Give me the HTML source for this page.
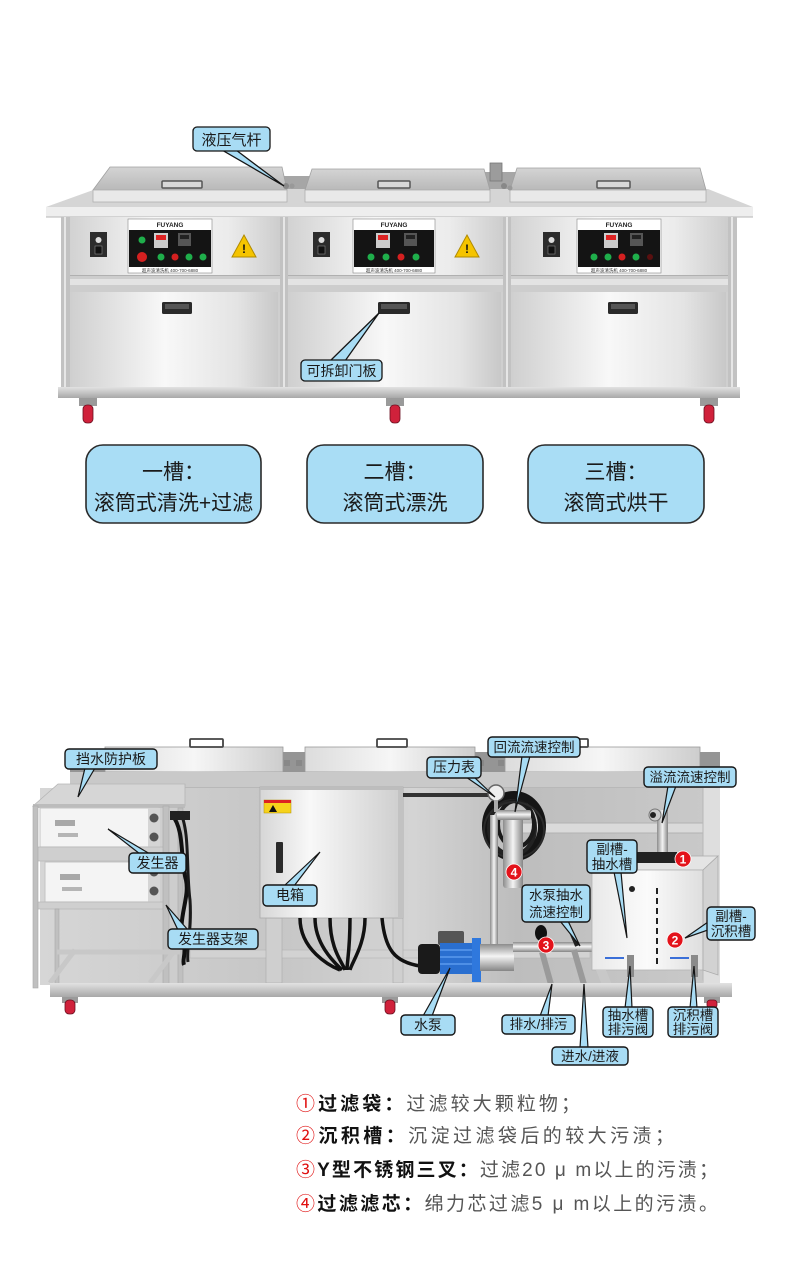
<!DOCTYPE html>
<html><head><meta charset="utf-8"><style>
html,body{margin:0;padding:0;background:#fff;}
svg{display:block;}
text{font-family:"Liberation Sans","Noto Sans CJK SC",sans-serif;}
</style></head><body>
<svg width="790" height="1268" viewBox="0 0 790 1268" xmlns="http://www.w3.org/2000/svg">
<defs>
<linearGradient id="up" x1="0" x2="1" y1="0" y2="0"><stop offset="0" stop-color="#d2d2d2"/><stop offset="0.4" stop-color="#f6f6f6"/><stop offset="0.75" stop-color="#ececec"/><stop offset="1" stop-color="#cdcdcd"/></linearGradient>
<linearGradient id="door" x1="0" x2="1" y1="0" y2="0"><stop offset="0" stop-color="#d0d0d0"/><stop offset="0.45" stop-color="#f8f8f8"/><stop offset="0.8" stop-color="#e4e4e4"/><stop offset="1" stop-color="#c8c8c8"/></linearGradient>
<linearGradient id="lidTop" x1="0" y1="0" x2="0" y2="1"><stop offset="0" stop-color="#d4d4d4"/><stop offset="1" stop-color="#b9b9b9"/></linearGradient>
<linearGradient id="lidB" x1="0" y1="0" x2="1" y2="0"><stop offset="0" stop-color="#dcdcdc"/><stop offset="0.5" stop-color="#f6f6f6"/><stop offset="1" stop-color="#cdcdcd"/></linearGradient>
<linearGradient id="pipe" x1="0" x2="1" y1="0" y2="0"><stop offset="0" stop-color="#8c8c8c"/><stop offset="0.5" stop-color="#f4f4f4"/><stop offset="1" stop-color="#858585"/></linearGradient>
<linearGradient id="pipeH" x1="0" y1="0" x2="0" y2="1"><stop offset="0" stop-color="#8c8c8c"/><stop offset="0.45" stop-color="#f4f4f4"/><stop offset="1" stop-color="#858585"/></linearGradient>
<linearGradient id="wall" x1="0" x2="1" y1="0" y2="0"><stop offset="0" stop-color="#d6d6d6"/><stop offset="0.35" stop-color="#c6c6c6"/><stop offset="0.55" stop-color="#d4d4d4"/><stop offset="0.7" stop-color="#bdbdbd"/><stop offset="1" stop-color="#cacaca"/></linearGradient>
<linearGradient id="ebox" x1="0" x2="1" y1="0" y2="0"><stop offset="0" stop-color="#d6d6d6"/><stop offset="0.35" stop-color="#f8f8f8"/><stop offset="1" stop-color="#cdcdcd"/></linearGradient>
<linearGradient id="rail" x1="0" y1="0" x2="0" y2="1"><stop offset="0" stop-color="#e2e2e2"/><stop offset="1" stop-color="#a8a8a8"/></linearGradient>
<linearGradient id="sub" x1="0" x2="1" y1="0" y2="0"><stop offset="0" stop-color="#e9e9e9"/><stop offset="0.5" stop-color="#fbfbfb"/><stop offset="1" stop-color="#dedede"/></linearGradient>
</defs>

<!-- ================= TOP MACHINE ================= -->
<rect x="270" y="176" width="50" height="18" fill="#a6a6a6"/>
<rect x="478" y="172" width="44" height="22" fill="#a6a6a6"/>
<rect x="490" y="163" width="12" height="18" fill="#9c9c9c" stroke="#777" stroke-width="0.8"/>
<polygon points="46,207 96,189 708,189 753,207" fill="#d5d5d5"/>
<rect x="46" y="207" width="707" height="10" fill="#eeeeee"/>
<line x1="46" y1="217" x2="753" y2="217" stroke="#b5b5b5"/>
<!-- lids -->
<polygon points="110,167 282,167 287,190 93,190" fill="url(#lidTop)" stroke="#a0a0a0" stroke-width="0.8"/>
<rect x="93" y="190" width="194" height="12" fill="#e9e9e9" stroke="#b0b0b0" stroke-width="0.8"/>
<rect x="162" y="181" width="40" height="7" rx="1" fill="#d8d8d8" stroke="#555" stroke-width="1.5"/>
<polygon points="312,169 484,169 490,190 305,190" fill="url(#lidTop)" stroke="#a0a0a0" stroke-width="0.8"/>
<rect x="305" y="190" width="185" height="12" fill="#e9e9e9" stroke="#b0b0b0" stroke-width="0.8"/>
<rect x="378" y="181" width="32" height="7" rx="1" fill="#d8d8d8" stroke="#555" stroke-width="1.5"/>
<polygon points="517,168 700,168 706,190 510,190" fill="url(#lidTop)" stroke="#a0a0a0" stroke-width="0.8"/>
<rect x="510" y="190" width="196" height="12" fill="#e9e9e9" stroke="#b0b0b0" stroke-width="0.8"/>
<rect x="597" y="181" width="33" height="7" rx="1" fill="#d8d8d8" stroke="#555" stroke-width="1.5"/>
<circle cx="286" cy="186" r="3" fill="#888"/><circle cx="292" cy="186" r="2.5" fill="#999"/>
<circle cx="504" cy="186" r="3" fill="#888"/><circle cx="510" cy="188" r="2.5" fill="#999"/>

<!-- body -->
<rect x="61" y="217" width="676" height="170" fill="#cfcfcf"/>
<rect x="70" y="217" width="210" height="58" fill="url(#up)"/>
<rect x="288" y="217" width="215" height="58" fill="url(#up)"/>
<rect x="511" y="217" width="217" height="58" fill="url(#up)"/>
<rect x="61" y="275" width="676" height="17" fill="#cdcdcd"/>
<rect x="61" y="279" width="676" height="6" fill="#e3e3e3"/>
<line x1="61" y1="275.5" x2="737" y2="275.5" stroke="#b0b0b0"/>
<rect x="72" y="292" width="206" height="95" fill="url(#door)"/>
<rect x="290" y="292" width="211" height="95" fill="url(#door)"/>
<rect x="513" y="292" width="213" height="95" fill="url(#door)"/>
<g fill="#c2c2c2">
<rect x="61" y="217" width="9" height="170"/><rect x="280" y="217" width="8" height="170"/>
<rect x="503" y="217" width="8" height="170"/><rect x="728" y="217" width="9" height="170"/>
</g>
<g fill="#e6e6e6"><rect x="283" y="217" width="2" height="170"/><rect x="506" y="217" width="2" height="170"/><rect x="64" y="217" width="2" height="170"/><rect x="731" y="217" width="2" height="170"/></g>
<rect x="58" y="387" width="682" height="11" fill="url(#rail)"/>
<!-- door handles -->
<rect x="162" y="302" width="30" height="12" rx="1.5" fill="#2a2a2a"/><rect x="165" y="304" width="24" height="5" fill="#555"/>
<rect x="378" y="302" width="32" height="12" rx="1.5" fill="#2a2a2a"/><rect x="381" y="304" width="26" height="5" fill="#555"/>
<rect x="608" y="302" width="30" height="12" rx="1.5" fill="#2a2a2a"/><rect x="611" y="304" width="24" height="5" fill="#555"/>
<!-- switches -->
<g><rect x="90" y="232" width="17" height="25" fill="#2c2c2c"/><circle cx="98.5" cy="240" r="3" fill="#ddd"/><rect x="95" y="246" width="7" height="8" fill="#111" stroke="#888" stroke-width="0.6"/></g>
<g><rect x="313" y="232" width="17" height="25" fill="#2c2c2c"/><circle cx="321.5" cy="240" r="3" fill="#ddd"/><rect x="318" y="246" width="7" height="8" fill="#111" stroke="#888" stroke-width="0.6"/></g>
<g><rect x="543" y="232" width="17" height="25" fill="#2c2c2c"/><circle cx="551.5" cy="240" r="3" fill="#ddd"/><rect x="548" y="246" width="7" height="8" fill="#111" stroke="#888" stroke-width="0.6"/></g>
<!-- warning triangles -->
<g><polygon points="244,235 256,257 232,257" fill="#f5c400" stroke="#b08a00" stroke-width="1"/><text x="244" y="253" font-size="12" font-weight="bold" text-anchor="middle" fill="#111">!</text></g>
<g><polygon points="467,235 479,257 455,257" fill="#f5c400" stroke="#b08a00" stroke-width="1"/><text x="467" y="253" font-size="12" font-weight="bold" text-anchor="middle" fill="#111">!</text></g>
<!-- panels -->
<g>
<rect x="128" y="219" width="84" height="54" fill="#fff" stroke="#888" stroke-width="0.6"/>
<rect x="129" y="230" width="82" height="37" fill="#141414"/>
<text x="170" y="227" font-size="6.5" font-weight="bold" text-anchor="middle" fill="#222">FUYANG</text>
<text x="170" y="272" font-size="4.5" text-anchor="middle" fill="#333">超声波清洗机 400-700-6880</text>
<circle cx="142" cy="240" r="3.5" fill="#1fae4b"/>
<rect x="154" y="233" width="14" height="15" fill="#ccc"/><rect x="156" y="235" width="10" height="5" fill="#d22"/>
<rect x="178" y="233" width="13" height="13" fill="#555"/><rect x="180" y="235" width="9" height="4" fill="#222"/>
<circle cx="142" cy="257" r="5" fill="#d42020"/>
<circle cx="161" cy="257" r="3.5" fill="#1fae4b"/><circle cx="175" cy="257" r="3.5" fill="#d42020"/>
<circle cx="189" cy="257" r="3.5" fill="#1fae4b"/><circle cx="203" cy="257" r="3.5" fill="#1fae4b"/>
</g>
<g>
<rect x="353" y="219" width="82" height="54" fill="#fff" stroke="#888" stroke-width="0.6"/>
<rect x="354" y="230" width="80" height="37" fill="#141414"/>
<text x="394" y="227" font-size="6.5" font-weight="bold" text-anchor="middle" fill="#222">FUYANG</text>
<text x="394" y="272" font-size="4.5" text-anchor="middle" fill="#333">超声波清洗机 400-700-6880</text>
<rect x="376" y="233" width="14" height="15" fill="#ccc"/><rect x="378" y="235" width="10" height="5" fill="#d22"/>
<rect x="404" y="233" width="13" height="13" fill="#555"/><rect x="406" y="235" width="9" height="4" fill="#222"/>
<circle cx="371" cy="257" r="3.5" fill="#1fae4b"/><circle cx="386" cy="257" r="3.5" fill="#1fae4b"/>
<circle cx="401" cy="257" r="3.5" fill="#d42020"/><circle cx="416" cy="257" r="3.5" fill="#1fae4b"/>
</g>
<g>
<rect x="577" y="219" width="84" height="54" fill="#fff" stroke="#888" stroke-width="0.6"/>
<rect x="578" y="230" width="82" height="37" fill="#141414"/>
<text x="619" y="227" font-size="6.5" font-weight="bold" text-anchor="middle" fill="#222">FUYANG</text>
<text x="619" y="272" font-size="4.5" text-anchor="middle" fill="#333">超声波清洗机 400-700-6880</text>
<rect x="604" y="233" width="14" height="15" fill="#ccc"/><rect x="606" y="235" width="10" height="5" fill="#d22"/>
<rect x="630" y="233" width="13" height="13" fill="#555"/><rect x="632" y="235" width="9" height="4" fill="#222"/>
<circle cx="594" cy="257" r="3.5" fill="#1fae4b"/><circle cx="608" cy="257" r="3.5" fill="#1fae4b"/>
<circle cx="622" cy="257" r="3.5" fill="#d42020"/><circle cx="636" cy="257" r="3.5" fill="#1fae4b"/>
<circle cx="650" cy="257" r="3" fill="#5a1010"/>
</g>
<!-- wheels top -->
<g><rect x="79" y="398" width="18" height="8" fill="#9a9a9a"/><rect x="83" y="405" width="10" height="18" rx="4" fill="#d0213b" stroke="#6a1020" stroke-width="0.8"/></g>
<g><rect x="386" y="398" width="18" height="8" fill="#9a9a9a"/><rect x="390" y="405" width="10" height="18" rx="4" fill="#d0213b" stroke="#6a1020" stroke-width="0.8"/></g>
<g><rect x="700" y="398" width="18" height="8" fill="#9a9a9a"/><rect x="704" y="405" width="10" height="18" rx="4" fill="#d0213b" stroke="#6a1020" stroke-width="0.8"/></g>

<!-- top callouts -->
<g fill="#a8dcf4" stroke="#151515" stroke-width="1.3">
<polygon points="222,150 236,150 284,186"/>
<polygon points="330,361 345,361 379,313"/>
<rect x="193" y="127" width="77" height="24" rx="4"/>
<rect x="301" y="360" width="81" height="21" rx="4"/>
</g>
<g font-size="15" fill="#1a1a1a" text-anchor="middle">
<text x="231.5" y="145">液压气杆</text>
<text x="341.5" y="376" font-size="14">可拆卸门板</text>
</g>

<!-- big boxes -->
<g fill="#a9ddf5" stroke="#2a2a2a" stroke-width="1.6">
<rect x="86" y="445" width="175" height="78" rx="17"/>
<rect x="307" y="445" width="176" height="78" rx="17"/>
<rect x="528" y="445" width="176" height="78" rx="17"/>
</g>
<g font-size="21" fill="#1a1a1a" text-anchor="middle">
<text x="173.5" y="479">一槽：</text><text x="173.5" y="510">滚筒式清洗+过滤</text>
<text x="395" y="479">二槽：</text><text x="395" y="510">滚筒式漂洗</text>
<text x="616" y="479">三槽：</text><text x="616" y="510">滚筒式烘干</text>
</g>

<!-- ================= BOTTOM MACHINE ================= -->
<rect x="70" y="752" width="650" height="22" fill="#959595"/>
<!-- lids -->
<rect x="105" y="747" width="178" height="25" fill="url(#lidB)" stroke="#999" stroke-width="0.8"/>
<rect x="190" y="739" width="33" height="8" rx="1" fill="none" stroke="#444" stroke-width="1.8"/>
<rect x="305" y="747" width="170" height="25" fill="url(#lidB)" stroke="#999" stroke-width="0.8"/>
<rect x="377" y="739" width="30" height="8" rx="1" fill="none" stroke="#444" stroke-width="1.8"/>
<rect x="505" y="747" width="195" height="25" fill="url(#lidB)" stroke="#999" stroke-width="0.8"/>
<rect x="556" y="739" width="32" height="8" rx="1" fill="none" stroke="#444" stroke-width="1.8"/>
<g fill="#888"><rect x="284" y="760" width="6" height="6"/><rect x="296" y="760" width="6" height="6"/><rect x="478" y="760" width="6" height="6"/><rect x="498" y="760" width="6" height="6"/></g>
<rect x="70" y="772" width="650" height="16" fill="#c9c9c9"/>
<line x1="70" y1="788" x2="720" y2="788" stroke="#a8a8a8"/>
<!-- back wall -->
<rect x="40" y="788" width="680" height="197" fill="url(#wall)"/>
<rect x="520" y="823" width="185" height="10" fill="#dadada"/>
<line x1="520" y1="823" x2="705" y2="823" stroke="#b2b2b2"/>
<line x1="520" y1="833" x2="705" y2="833" stroke="#b2b2b2"/>
<rect x="703" y="788" width="17" height="197" fill="#dedede"/>
<line x1="703" y1="788" x2="703" y2="985" stroke="#b8b8b8"/>

<!-- generator rack -->
<polygon points="33,806 58,784 185,784 185,806" fill="#d6d6d6" stroke="#b5b5b5" stroke-width="0.8"/>
<rect x="33" y="804" width="152" height="4" fill="#bcbcbc"/>
<rect x="40" y="808" width="118" height="39" fill="#f4f4f4" stroke="#c4c4c4"/>
<rect x="148" y="808" width="12" height="39" fill="#d5d5d5"/>
<circle cx="154" cy="818" r="4.5" fill="#555"/><circle cx="154" cy="837" r="4.5" fill="#555"/>
<rect x="55" y="820" width="20" height="6" fill="#a8a8a8"/><rect x="58" y="833" width="20" height="4" fill="#b5b5b5"/>
<rect x="36" y="847" width="132" height="14" fill="#cfcfcf" stroke="#b0b0b0" stroke-width="0.6"/>
<rect x="45" y="862" width="113" height="40" fill="#f4f4f4" stroke="#c4c4c4"/>
<rect x="148" y="862" width="12" height="40" fill="#d5d5d5"/>
<circle cx="154" cy="872" r="4.5" fill="#555"/><circle cx="154" cy="891" r="4.5" fill="#555"/>
<rect x="60" y="874" width="20" height="6" fill="#a8a8a8"/><rect x="62" y="887" width="20" height="4" fill="#b5b5b5"/>
<rect x="36" y="902" width="132" height="7" fill="#cfcfcf" stroke="#b0b0b0" stroke-width="0.6"/>
<g fill="#c0c0c0" stroke="#a8a8a8" stroke-width="0.6">
<rect x="33" y="806" width="5" height="182"/><rect x="163" y="806" width="6" height="182"/>
<rect x="55" y="909" width="4" height="76"/><rect x="178" y="808" width="5" height="177"/>
</g>
<g stroke="#c8c8c8" stroke-width="5" fill="none"><line x1="75" y1="950" x2="50" y2="983"/><line x1="175" y1="950" x2="150" y2="983"/><line x1="57" y1="952" x2="180" y2="952"/></g>
<path d="M172,815 C185,830 180,860 186,880 C190,900 176,920 184,945 C186,955 182,960 184,965" stroke="#111" stroke-width="4" fill="none"/>
<path d="M180,812 C190,830 186,870 190,900 C192,930 186,950 188,962" stroke="#1a1a1a" stroke-width="3" fill="none"/>
<rect x="170" y="811" width="20" height="9" fill="#222"/>

<!-- lower bar behind -->
<rect x="190" y="950" width="400" height="8" fill="#d2d2d2" stroke="#b5b5b5" stroke-width="0.6"/>

<!-- electric box -->
<rect x="266" y="918" width="16" height="65" fill="#cfcfcf" stroke="#aaa" stroke-width="0.6"/>
<rect x="393" y="918" width="10" height="65" fill="#cfcfcf" stroke="#aaa" stroke-width="0.6"/>
<rect x="260" y="787" width="143" height="131" fill="url(#ebox)" stroke="#aaa" stroke-width="0.8"/>
<rect x="260" y="787" width="143" height="3" fill="#bdbdbd"/>
<rect x="398" y="790" width="5" height="128" fill="#c2c2c2"/>
<rect x="264" y="800" width="27" height="13" fill="#f6d21c" stroke="#b29000" stroke-width="0.5"/>
<rect x="264" y="800" width="27" height="3" fill="#d22"/>
<polygon points="269,812 273,805 277,812" fill="#111"/>
<rect x="276" y="842" width="7" height="31" rx="1" fill="#2a2a2a"/>
<path d="M300,918 C300,950 330,966 340,970 M315,918 C315,945 335,963 342,970 M330,918 C330,950 343,963 345,970 M350,918 C350,950 347,962 347,970 M365,918 C365,945 352,962 350,970 M382,918 C385,950 395,962 420,966" stroke="#111" stroke-width="3.5" fill="none"/>
<path d="M403,795 L492,795" stroke="#333" stroke-width="4"/>

<!-- hose / filter / gauge -->
<g fill="none">
<ellipse cx="514" cy="826" rx="28" ry="31" stroke="#151515" stroke-width="8"/>
<ellipse cx="512" cy="828" rx="23" ry="27" stroke="#222" stroke-width="4"/>
<ellipse cx="516" cy="824" rx="18" ry="23" stroke="#1a1a1a" stroke-width="4"/>
<ellipse cx="514" cy="830" rx="30" ry="28" stroke="#2a2a2a" stroke-width="2"/>
</g>
<rect x="490" y="815" width="8" height="130" fill="url(#pipe)"/>
<rect x="503" y="817" width="20" height="71" rx="3" fill="url(#pipe)"/>
<rect x="497" y="810" width="34" height="10" rx="2" fill="url(#pipeH)"/>
<circle cx="496" cy="793" r="8" fill="#eeeeee" stroke="#666" stroke-width="1.5"/>
<rect x="494" y="800" width="4" height="12" fill="#aaa"/>

<!-- pump -->
<rect x="418" y="944" width="22" height="30" rx="4" fill="#1a1a1a"/>
<rect x="438" y="931" width="26" height="14" rx="2" fill="#555"/>
<rect x="440" y="943" width="32" height="31" fill="#2a6fd0"/>
<g stroke="#5a9aee" stroke-width="1.5"><line x1="440" y1="950" x2="472" y2="950"/><line x1="440" y1="957" x2="472" y2="957"/><line x1="440" y1="964" x2="472" y2="964"/></g>
<rect x="472" y="938" width="9" height="44" fill="#2f78dd"/>
<rect x="480" y="944" width="34" height="27" fill="url(#pipeH)"/>
<rect x="513" y="942" width="87" height="10" fill="url(#pipeH)"/>
<ellipse cx="541" cy="933" rx="6" ry="8" fill="#111"/>
<line x1="542" y1="952" x2="552" y2="988" stroke="#9a9a9a" stroke-width="6"/>
<line x1="574" y1="950" x2="585" y2="988" stroke="#9a9a9a" stroke-width="6"/>
<line x1="566" y1="920" x2="577" y2="946" stroke="#222" stroke-width="4"/>

<!-- sub tank -->
<polygon points="592,870 606,856 718,856 703,870" fill="#e4e4e4" stroke="#aaa" stroke-width="0.8"/>
<rect x="592" y="870" width="111" height="100" fill="url(#sub)" stroke="#b5b5b5" stroke-width="0.8"/>
<polygon points="703,870 718,856 718,975 703,970" fill="#d2d2d2" stroke="#aaa" stroke-width="0.8"/>
<polygon points="596,970 606,970 612,985 602,985" fill="#c8c8c8"/>
<polygon points="690,970 700,970 704,985 694,985" fill="#c8c8c8"/>
<rect x="657" y="810" width="11" height="44" fill="url(#pipe)"/>
<circle cx="655" cy="815" r="6" fill="#ccc" stroke="#777"/><circle cx="653" cy="815" r="3" fill="#222"/>
<rect x="633" y="852" width="44" height="11" fill="#222"/>
<line x1="657" y1="888" x2="657" y2="966" stroke="#222" stroke-width="2" stroke-dasharray="6,4"/>
<circle cx="632" cy="889" r="3" fill="#222"/>
<line x1="605" y1="958" x2="624" y2="958" stroke="#3a6fd8" stroke-width="2"/>
<line x1="670" y1="958" x2="689" y2="958" stroke="#3a6fd8" stroke-width="2"/>
<rect x="627" y="955" width="7" height="22" fill="#8a8a8a"/>
<rect x="691" y="955" width="7" height="22" fill="#8a8a8a"/>

<!-- frame rail & wheels -->
<rect x="50" y="983" width="682" height="14" fill="url(#rail)"/>
<g><rect x="62" y="997" width="16" height="6" fill="#9a9a9a"/><rect x="65" y="1000" width="10" height="14" rx="4" fill="#d0213b" stroke="#6a1020" stroke-width="0.8"/></g>
<g><rect x="382" y="997" width="16" height="6" fill="#9a9a9a"/><rect x="385" y="1000" width="10" height="14" rx="4" fill="#d0213b" stroke="#6a1020" stroke-width="0.8"/></g>
<g><rect x="704" y="997" width="16" height="6" fill="#9a9a9a"/><rect x="707" y="1000" width="10" height="8" rx="3" fill="#d0213b" stroke="#6a1020" stroke-width="0.8"/></g>

<!-- bottom leaders -->
<g fill="#a8dcf4" stroke="#151515" stroke-width="1.2">
<polygon points="85,768 95,768 78,797"/>
<polygon points="140,854 150,854 108,829"/>
<polygon points="178,930 188,930 166,905"/>
<polygon points="284,886 294,886 320,852"/>
<polygon points="466,777 474,777 495,797"/>
<polygon points="522,756 530,756 515,812"/>
<polygon points="668,786 676,786 662,823"/>
<polygon points="614,872 621,872 627,938"/>
<polygon points="560,921 568,921 580,946"/>
<polygon points="708,922 708,930 685,938"/>
<polygon points="540,1016 548,1016 552,984"/>
<polygon points="580,1048 588,1048 584,984"/>
<polygon points="625,1008 632,1008 630,966"/>
<polygon points="690,1008 697,1008 694,966"/>
<polygon points="423,1016 432,1016 450,968"/>
</g>
<g fill="#a8dcf4" stroke="#151515" stroke-width="1.4">
<rect x="65" y="749" width="92" height="20" rx="4"/>
<rect x="129" y="853" width="57" height="20" rx="4"/>
<rect x="168" y="929" width="90" height="20" rx="4"/>
<rect x="263" y="885" width="54" height="21" rx="4"/>
<rect x="427" y="757" width="54" height="21" rx="4"/>
<rect x="488" y="737" width="92" height="20" rx="4"/>
<rect x="644" y="767" width="92" height="20" rx="4"/>
<rect x="587" y="840" width="50" height="33" rx="4"/>
<rect x="522" y="885" width="68" height="37" rx="4"/>
<rect x="707" y="907" width="48" height="33" rx="4"/>
<rect x="502" y="1015" width="73" height="19" rx="4"/>
<rect x="552" y="1047" width="76" height="18" rx="4"/>
<rect x="603" y="1007" width="50" height="30" rx="4"/>
<rect x="668" y="1007" width="50" height="30" rx="4"/>
<rect x="401" y="1015" width="54" height="20" rx="4"/>
</g>
<g font-size="14" fill="#1a1a1a" text-anchor="middle">
<text x="111" y="764">挡水防护板</text>
<text x="157.5" y="868">发生器</text>
<text x="213" y="944">发生器支架</text>
<text x="290" y="900">电箱</text>
<text x="454" y="772">压力表</text>
<text x="534" y="752" font-size="13.5">回流流速控制</text>
<text x="690" y="782" font-size="13.5">溢流流速控制</text>
<text x="612" y="854" font-size="13.5">副槽-</text>
<text x="612" y="869" font-size="13.5">抽水槽</text>
<text x="556" y="900" font-size="13.5">水泵抽水</text>
<text x="556" y="917" font-size="13.5">流速控制</text>
<text x="731" y="921" font-size="13.5">副槽-</text>
<text x="731" y="936" font-size="13.5">沉积槽</text>
<text x="538.5" y="1029" font-size="13.5">排水/排污</text>
<text x="590" y="1061" font-size="13.5">进水/进液</text>
<text x="628" y="1020" font-size="13.5">抽水槽</text>
<text x="628" y="1034" font-size="13.5">排污阀</text>
<text x="693" y="1020" font-size="13.5">沉积槽</text>
<text x="693" y="1034" font-size="13.5">排污阀</text>
<text x="428" y="1030">水泵</text>
</g>
<!-- number badges -->
<g fill="#e3131b" stroke="#fff" stroke-width="0.8">
<circle cx="683" cy="859" r="8"/><circle cx="675" cy="940" r="8"/>
<circle cx="546" cy="945" r="8"/><circle cx="514" cy="872" r="8"/>
</g>
<g font-size="12" font-weight="bold" fill="#fff" text-anchor="middle">
<text x="683" y="863.5">1</text><text x="675" y="944.5">2</text>
<text x="546" y="949.5">3</text><text x="514" y="876.5">4</text>
</g>

<!-- legend -->
<g font-size="19">
<text x="296" y="1110" textLength="284" lengthAdjust="spacing"><tspan fill="#e01010">①</tspan><tspan font-weight="bold" fill="#111">过滤袋：</tspan><tspan fill="#555">过滤较大颗粒物；</tspan></text>
<text x="296" y="1142" textLength="378" lengthAdjust="spacing"><tspan fill="#e01010">②</tspan><tspan font-weight="bold" fill="#111">沉积槽：</tspan><tspan fill="#555">沉淀过滤袋后的较大污渍；</tspan></text>
<text x="296" y="1176" textLength="422" lengthAdjust="spacing"><tspan fill="#e01010">③</tspan><tspan font-weight="bold" fill="#111">Y型不锈钢三叉：</tspan><tspan fill="#555">过滤20 μ m以上的污渍；</tspan></text>
<text x="296" y="1210" textLength="422" lengthAdjust="spacing"><tspan fill="#e01010">④</tspan><tspan font-weight="bold" fill="#111">过滤滤芯：</tspan><tspan fill="#555">绵力芯过滤5 μ m以上的污渍。</tspan></text>
</g>
</svg>
</body></html>
